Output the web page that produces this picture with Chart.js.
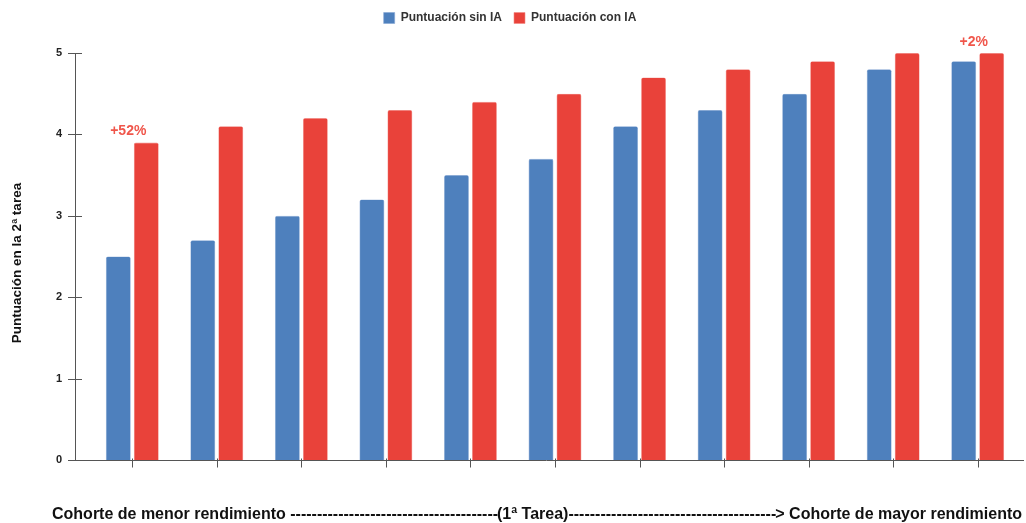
<!DOCTYPE html>
<html><head><meta charset="utf-8">
<script src="https://cdn.jsdelivr.net/npm/chart.js@4"></script>
<style>html,body{margin:0;padding:0;background:#fff}#wrap{width:1026px;height:523px;position:relative}</style>
</head><body><div id="wrap"><canvas id="c" width="1026" height="523"></canvas></div>
<script>
const categories = ['C1','C2','C3','C4','C5','C6','C7','C8','C9','C10','C11'];
const sinIA = [2.5, 2.7, 3.0, 3.2, 3.5, 3.7, 4.1, 4.3, 4.5, 4.8, 4.9];
const conIA = [3.9, 4.1, 4.2, 4.3, 4.4, 4.5, 4.7, 4.8, 4.9, 5.0, 5.0];
const annotations = [{index:0, text:'+52%'}, {index:10, text:'+2%'}];
const seriesNames = ['Puntuación sin IA', 'Puntuación con IA'];
const yTitle = 'Puntuación en la 2ª tarea';
const xTitleParts = ['Cohorte de menor rendimiento ', '(1ª Tarea)', '> Cohorte de mayor rendimiento'];

const FONT = "'Liberation Sans', Arial, sans-serif";
const legendPad = {
  id: 'legendPad',
  afterInit(chart) {
    const lg = chart.legend;
    if (lg && !lg._patched) {
      const orig = lg.fit;
      lg.fit = function() { orig.call(this); this.height += 19; };
      lg._patched = true;
    }
  }
};
function dashFill(ctx, x1, x2, yy) {
  const dw = ctx.measureText('-').width;
  const n = Math.max(0, Math.round((x2 - x1) / dw));
  ctx.textAlign = 'left';
  ctx.fillText('-'.repeat(n), x1, yy);
}
const axisPlugin = {
  id: 'axisPlugin',
  afterDraw(chart) {
    const {ctx, scales} = chart;
    const y = scales.y, x = scales.x;
    ctx.save();
    ctx.strokeStyle = '#555';
    ctx.lineWidth = 1;
    const ax = 75.5;
    const y0 = Math.round(y.getPixelForValue(0)) + 0.5;
    const y5 = Math.round(y.getPixelForValue(5)) + 0.5;
    ctx.beginPath();
    ctx.moveTo(ax, y5); ctx.lineTo(ax, y0);
    for (let v = 0; v <= 5; v++) {
      const py = Math.round(y.getPixelForValue(v)) + 0.5;
      ctx.moveTo(68, py); ctx.lineTo(82, py);
    }
    ctx.moveTo(69, y0); ctx.lineTo(1024, y0);
    for (let i = 0; i < categories.length; i++) {
      const px = Math.round(x.getPixelForValue(i)) + 0.5;
      ctx.moveTo(px, y0 - 2); ctx.lineTo(px, y0 + 7);
    }
    ctx.stroke();
    // annotations
    ctx.fillStyle = '#f0564b';
    ctx.font = 'bold 14px ' + FONT;
    ctx.textAlign = 'center';
    ctx.textBaseline = 'middle';
    annotations.forEach(a => {
      const px = x.getPixelForValue(a.index) - 4;
      const py = y.getPixelForValue(conIA[a.index]) - 11;
      ctx.fillText(a.text, px, py);
    });
    // x title
    ctx.fillStyle = '#111';
    ctx.font = 'bold 16px ' + FONT;
    ctx.textBaseline = 'middle';
    const ty = 515;
    ctx.textAlign = 'left';
    ctx.fillText(xTitleParts[0], 52, ty);
    const e1 = 52 + ctx.measureText(xTitleParts[0]).width;
    const midStart = 497;
    ctx.fillText(xTitleParts[1], midStart, ty);
    const e2 = midStart + ctx.measureText(xTitleParts[1]).width;
    const w3 = ctx.measureText(xTitleParts[2]).width;
    const s3 = 1022 - w3;
    ctx.fillText(xTitleParts[2], s3, ty);
    dashFill(ctx, e1, midStart, ty);
    dashFill(ctx, e2, s3, ty);
    // y title
    ctx.save();
    ctx.translate(17, 263);
    ctx.rotate(-Math.PI / 2);
    ctx.textAlign = 'center';
    ctx.font = 'bold 13.5px ' + FONT;
    ctx.fillText(yTitle, 0, 0);
    ctx.restore();
    ctx.restore();
  }
};

new Chart(document.getElementById('c'), {
  type: 'bar',
  data: {
    labels: categories,
    datasets: [
      {label: seriesNames[0], data: sinIA, backgroundColor: '#4e80bd', borderColor: '#86a6d4', borderWidth: 0.6, borderRadius: 2, borderSkipped: 'bottom'},
      {label: seriesNames[1], data: conIA, backgroundColor: '#e9423a', borderColor: '#f28a84', borderWidth: 0.6, borderRadius: 2, borderSkipped: 'bottom'}
    ]
  },
  options: {
    responsive: false,
    animation: false,
    devicePixelRatio: 1,
    layout: {padding: {left: 0, right: 6, top: 0, bottom: 63}},
    datasets: {bar: {categoryPercentage: 0.662, barPercentage: 0.89}},
    plugins: {
      legend: {
        position: 'top',
        labels: {boxWidth: 11, boxHeight: 11, font: {family: FONT, size: 12, weight: 'bold'}, color: '#333', padding: 12},
      },
      tooltip: {enabled: false}
    },
    scales: {
      x: {
        offset: true,
        grid: {display: false, drawTicks: false},
        border: {display: false},
        ticks: {display: false},
        title: {display: false}
      },
      y: {
        min: 0, max: 5,
        afterFit(s) { s.width = 90; },
        grid: {display: false, drawTicks: false},
        border: {display: false},
        ticks: {stepSize: 1, color: '#222', font: {family: FONT, size: 11, weight: 'bold'}, padding: 28},
        title: {display: false}
      }
    }
  },
  plugins: [legendPad, axisPlugin]
});
</script></body></html>
